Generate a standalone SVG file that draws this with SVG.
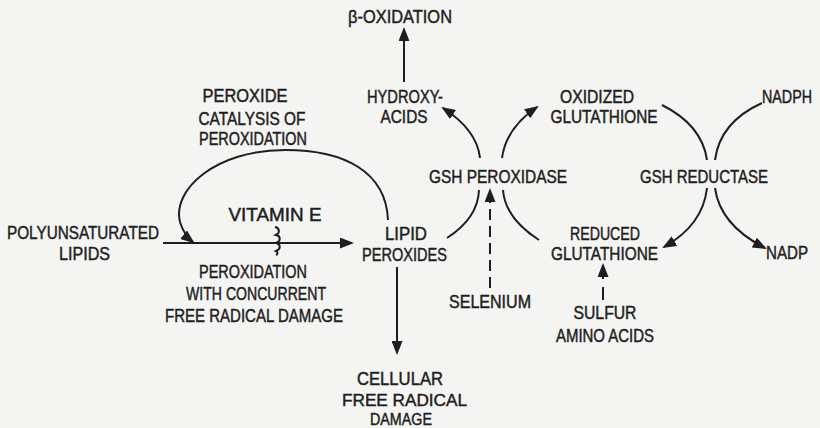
<svg xmlns="http://www.w3.org/2000/svg" width="820" height="428" viewBox="0 0 820 428">
<defs>
<style>
text{font-family:"Liberation Sans","DejaVu Sans",sans-serif;font-size:17.5px;fill:#1e1e1e;stroke:#1e1e1e;stroke-width:0.45px;text-anchor:middle;}
.s{font-size:16.5px;}
.e{text-anchor:end;}
.c{fill:none;stroke:#1e1e1e;stroke-width:2;}
.d{stroke-dasharray:11 6;}
</style>
<marker id="ah" viewBox="0 0 14 11" refX="12" refY="5.5" markerWidth="14" markerHeight="11" orient="auto" markerUnits="userSpaceOnUse">
<path d="M0,0 L14,5.5 L0,11 z" fill="#1e1e1e"/>
</marker>
</defs>
<rect width="820" height="428" fill="#f4f4f2"/>
<g id="connectors">
<path class="c" d="M404 82 L404 29" marker-end="url(#ah)"/>
<path class="c" d="M163 243 L352 243" marker-end="url(#ah)"/>
<path class="c" d="M388 220 C386 172 345 150 285 150 C215 150 172 190 180 222 Q184 235 193 242" marker-end="url(#ah)"/>
<path class="c" d="M275 227 c5 1 5 6 1 8 c5 1 5 6 0 8 c5 1 5 6 0 8 c2 1 2 3 0 4"/>
<path class="c" d="M397 267 L397 353" marker-end="url(#ah)"/>
<path class="c" d="M447 238 Q478 218 479 190"/>
<path class="c" d="M480 158 Q477 130 443 108" marker-end="url(#ah)"/>
<path class="c" d="M539 240 Q505 218 503 190"/>
<path class="c" d="M502 158 Q506 128 537 107" marker-end="url(#ah)"/>
<path class="c d" d="M490 288 L490 190" marker-end="url(#ah)"/>
<path class="c" d="M603 300 L603 287"/>
<path class="c" d="M603 279 L603 265" marker-end="url(#ah)"/>
<path class="c" d="M662 105 Q702 125 707 160"/>
<path class="c" d="M707 188 Q703 225 664 247" marker-end="url(#ah)"/>
<path class="c" d="M762 103 Q720 122 715 160"/>
<path class="c" d="M715 188 Q720 225 765 248" marker-end="url(#ah)"/>
</g>
<g id="beta-oxidation"><text x="400" y="23" textLength="104" lengthAdjust="spacingAndGlyphs">β-OXIDATION</text></g>
<g id="hydroxy-acids"><text x="405" y="103" textLength="76" lengthAdjust="spacingAndGlyphs">HYDROXY-</text><text x="404" y="123" textLength="47" lengthAdjust="spacingAndGlyphs">ACIDS</text></g>
<g id="oxidized-glutathione"><text x="597" y="103" textLength="74" lengthAdjust="spacingAndGlyphs">OXIDIZED</text><text x="604" y="123" textLength="107" lengthAdjust="spacingAndGlyphs">GLUTATHIONE</text></g>
<g id="nadph"><text class="e" x="812" y="103" textLength="50" lengthAdjust="spacingAndGlyphs">NADPH</text></g>
<g id="peroxide-catalysis"><text x="245" y="102" textLength="85" lengthAdjust="spacingAndGlyphs">PEROXIDE</text><text x="252" y="125" textLength="107" lengthAdjust="spacingAndGlyphs">CATALYSIS OF</text><text x="253" y="145" textLength="108" lengthAdjust="spacingAndGlyphs">PEROXIDATION</text></g>
<g id="gsh-peroxidase"><text x="498" y="183" textLength="138" lengthAdjust="spacingAndGlyphs">GSH PEROXIDASE</text></g>
<g id="gsh-reductase"><text x="704" y="183" textLength="128" lengthAdjust="spacingAndGlyphs">GSH REDUCTASE</text></g>
<g id="vitamin-e"><text x="275" y="221" textLength="93" lengthAdjust="spacingAndGlyphs">VITAMIN  E</text></g>
<g id="polyunsaturated-lipids"><text x="83" y="239" textLength="152" lengthAdjust="spacingAndGlyphs">POLYUNSATURATED</text><text x="84.5" y="260" textLength="51" lengthAdjust="spacingAndGlyphs">LIPIDS</text></g>
<g id="lipid-peroxides"><text x="406" y="240" textLength="42" lengthAdjust="spacingAndGlyphs">LIPID</text><text x="404.5" y="261" textLength="85" lengthAdjust="spacingAndGlyphs">PEROXIDES</text></g>
<g id="reduced-glutathione"><text x="605" y="240" textLength="70" lengthAdjust="spacingAndGlyphs">REDUCED</text><text x="604.5" y="260" textLength="107" lengthAdjust="spacingAndGlyphs">GLUTATHIONE</text></g>
<g id="nadp"><text class="e" x="808" y="259" textLength="42" lengthAdjust="spacingAndGlyphs">NADP</text></g>
<g id="peroxidation-damage"><text x="253" y="278" textLength="108" lengthAdjust="spacingAndGlyphs">PEROXIDATION</text><text x="256" y="300" textLength="140" lengthAdjust="spacingAndGlyphs">WITH CONCURRENT</text><text x="254" y="322" textLength="178" lengthAdjust="spacingAndGlyphs">FREE RADICAL DAMAGE</text></g>
<g id="selenium"><text x="490" y="308" textLength="82" lengthAdjust="spacingAndGlyphs">SELENIUM</text></g>
<g id="sulfur-amino-acids"><text x="605" y="319" textLength="63" lengthAdjust="spacingAndGlyphs">SULFUR</text><text x="605" y="342" textLength="98" lengthAdjust="spacingAndGlyphs">AMINO ACIDS</text></g>
<g id="cellular-damage"><text x="400" y="385" textLength="86" lengthAdjust="spacingAndGlyphs">CELLULAR</text><text class="s" x="404.5" y="406" textLength="125" lengthAdjust="spacingAndGlyphs">FREE RADICAL</text><text class="s" x="401" y="425" textLength="62" lengthAdjust="spacingAndGlyphs">DAMAGE</text></g>
</svg>
